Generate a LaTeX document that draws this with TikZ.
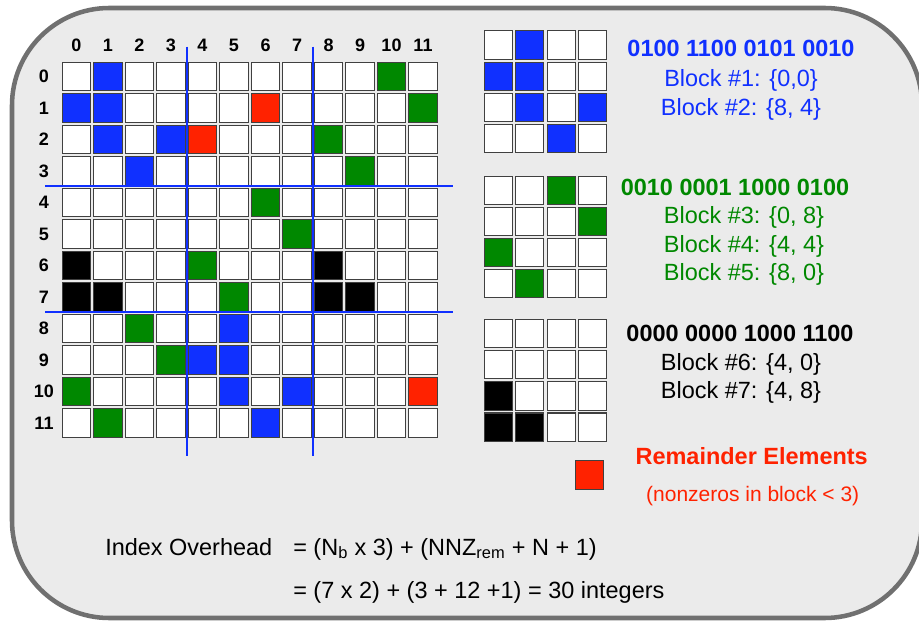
\documentclass[tikz,border=0pt]{standalone}
\usepackage{fontspec}
\setmainfont{Liberation Sans}
\usepackage{xcolor}
\usepackage{tikz}
\definecolor{matblue}{RGB}{16,48,255}
\definecolor{matgreen}{RGB}{0,136,0}
\definecolor{matred}{RGB}{255,34,0}
\definecolor{framefill}{RGB}{235,235,235}
\definecolor{framegray}{RGB}{112,112,112}

\begin{document}
\begin{tikzpicture}[x=0.75pt,y=-0.75pt,
        cell/.style={draw=black!75,line width=0.8pt,fill=white,minimum size=21.2pt,inner sep=0pt},
        lbl/.style={font=\fontsize{13.5pt}{15pt}\selectfont\bfseries,anchor=base,inner sep=0pt},
        txt/.style={font=\fontsize{17.6pt}{20pt}\selectfont,anchor=base,inner sep=0pt},
        head/.style={font=\fontsize{17.6pt}{20pt}\selectfont\bfseries,anchor=base,inner sep=0pt},
        sepline/.style={matblue,line width=1.6pt}]
        \useasboundingbox (0,0) rectangle (919,623);

        %frame
        \draw[fill=framefill,draw=framegray,line width=3.4pt,rounded corners=73pt] (12,8) rectangle (922,618);

        %matrix 12x12
        \foreach \r in {0,...,11}{
            \node[lbl] (row\r) at (44,82.9+31.5*\r) {\r};
            \node[lbl] (col\r) at (76.5+31.5*\r,51.7) {\r};
            \foreach \c in {0,...,11}
                \node[cell] (m\r-\c) at (76.5+31.5*\c,76.5+31.5*\r) {};
        }
        \foreach \r/\c/\col in {0/1/matblue,0/10/matgreen,1/0/matblue,1/1/matblue,1/6/matred,1/11/matgreen,
                2/1/matblue,2/3/matblue,2/4/matred,2/8/matgreen,3/2/matblue,3/9/matgreen,4/6/matgreen,
                5/7/matgreen,6/0/black,6/4/matgreen,6/8/black,7/0/black,7/1/black,7/5/matgreen,7/8/black,
                7/9/black,8/2/matgreen,8/5/matblue,9/3/matgreen,9/4/matblue,9/5/matblue,10/0/matgreen,
                10/5/matblue,10/7/matblue,10/11/matred,11/1/matgreen,11/6/matblue}
            \node[cell,fill=\col] (m\r-\c) at (76.5+31.5*\c,76.5+31.5*\r) {};

        %block boundaries
        \coordinate (v1top) at (186.8,46.7);
        \coordinate (v1bot) at (186.8,455.7);
        \coordinate (v2top) at (313.3,46.7);
        \coordinate (v2bot) at (313.3,455.7);
        \coordinate (h1lft) at (45,185.7);
        \coordinate (h1rgt) at (452.7,185.7);
        \coordinate (h2lft) at (45,312);
        \coordinate (h2rgt) at (452.7,312);
        \draw[sepline] (v1top)--(v1bot) (v2top)--(v2bot) (h1lft)--(h1rgt) (h2lft)--(h2rgt);

        %blue pattern
        \foreach \r in {0,...,3}
            \foreach \c in {0,...,3}{
                \node[cell] (p\r-\c) at (498.2+31.5*\c,45+31.2*\r) {};
                \node[cell] (q\r-\c) at (498.2+31.5*\c,190.2+31.2*\r) {};
                \node[cell] (k\r-\c) at (498.2+31.5*\c,333.5+31.2*\r) {};
            }
        \foreach \r/\c in {0/1,1/0,1/1,2/1,2/3,3/2}
            \node[cell,fill=matblue] (p\r-\c) at (498.2+31.5*\c,45+31.2*\r) {};
        %green pattern
        \foreach \r/\c in {0/2,1/3,2/0,3/1}
            \node[cell,fill=matgreen] (q\r-\c) at (498.2+31.5*\c,190.2+31.2*\r) {};
        %black pattern
        \foreach \r/\c in {2/0,3/0,3/1}
            \node[cell,fill=black] (k\r-\c) at (498.2+31.5*\c,333.5+31.2*\r) {};
        %remainder
        \node[cell,fill=matred] (remcell) at (589.5,475) {};

        %labels
        \node[head,matblue] (bits1) at (741,56.7) {0100 1100 0101 0010};
        \node[txt,matblue] (blk1) at (741,86.7) {Block \#1: \{0,0\}};
        \node[txt,matblue] (blk2) at (741,115.7) {Block \#2: \{8, 4\}};
        \node[head,matgreen] (bits2) at (735,195.1) {0010 0001 1000 0100};
        \node[txt,matgreen] (blk3) at (744,223.4) {Block \#3: \{0, 8\}};
        \node[txt,matgreen] (blk4) at (744,252.4) {Block \#4: \{4, 4\}};
        \node[txt,matgreen] (blk5) at (744,280.7) {Block \#5: \{8, 0\}};
        \node[head] (bits3) at (740,341.7) {0000 0000 1000 1100};
        \node[txt] (blk6) at (741,370.1) {Block \#6: \{4, 0\}};
        \node[txt] (blk7) at (741,398.4) {Block \#7: \{4, 8\}};
        \node[head,matred] (rem) at (751.7,464.1) {Remainder Elements};
        \node[txt,matred,font=\fontsize{15.75pt}{18pt}\selectfont] (remnote) at (752.7,501.5) {(nonzeros in block < 3)};

        %overhead
        \node[txt,anchor=base west] (ovname) at (105,555) {Index Overhead};
        \node[txt,anchor=base west] (ovform) at (293,555) {= (N\textsubscript{b} x 3) + (NNZ\textsubscript{rem} + N + 1)};
        \node[txt,anchor=base west] (ovsum) at (293,598.5) {= (7 x 2) + (3 + 12 +1) = 30 integers};
\end{tikzpicture}
\end{document}
